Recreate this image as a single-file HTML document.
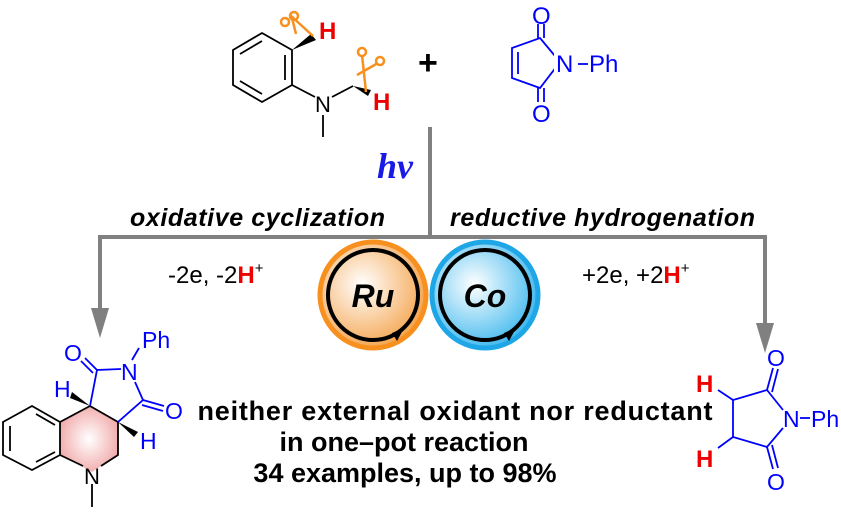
<!DOCTYPE html>
<html><head><meta charset="utf-8"><style>
html,body{margin:0;padding:0;background:#fff;}
svg{display:block;font-family:"Liberation Sans",sans-serif;}
</style></head><body>
<svg width="841" height="513" viewBox="0 0 841 513" xmlns="http://www.w3.org/2000/svg">
<defs>
<radialGradient id="ru" cx="0.4" cy="0.4" r="0.7"><stop offset="0" stop-color="#fff"/><stop offset="1" stop-color="#f39a3a"/></radialGradient>
<radialGradient id="co" cx="0.4" cy="0.4" r="0.7"><stop offset="0" stop-color="#fff"/><stop offset="1" stop-color="#29b0ec"/></radialGradient>
<radialGradient id="pk" cx="0.5" cy="0.5" r="0.6"><stop offset="0" stop-color="#fff"/><stop offset="1" stop-color="#f0a0a0"/></radialGradient>
</defs>
<!-- top-left molecule -->
<g stroke="#000" stroke-width="1.8" fill="none">
<polygon points="233,50 262,33 292,50 292,85 262,102 233,85"/>
<line x1="240" y1="54" x2="262" y2="41"/><line x1="285" y1="55" x2="285" y2="80"/><line x1="240" y1="81" x2="262" y2="94"/>
<line x1="292" y1="85" x2="315" y2="97"/>
<line x1="323" y1="115" x2="323" y2="137"/>
<line x1="332" y1="97" x2="353" y2="86"/>
</g>
<polygon points="292,50 311,34 316,40" fill="#000"/>
<polygon points="353,86 371,90 368,96" fill="#000"/>
<text x="315" y="112" font-size="22">N</text>
<text x="319" y="39" font-size="24" font-weight="bold" fill="#e00">H</text>
<text x="373" y="110" font-size="24" font-weight="bold" fill="#e00">H</text>
<g stroke="#f7901e" stroke-width="2.5" fill="none">
<line x1="290" y1="15" x2="313" y2="36"/><line x1="296" y1="34" x2="292" y2="18"/>
<circle cx="294" cy="16" r="4"/><circle cx="285" cy="22" r="4"/>
<line x1="362" y1="55" x2="366" y2="92"/><line x1="357" y1="75" x2="378" y2="63"/>
<circle cx="362" cy="52" r="4"/><circle cx="380" cy="61" r="4"/>
</g>
<text x="418" y="74" font-size="34" font-weight="bold">+</text>
<!-- maleimide -->
<g stroke="#00f" stroke-width="1.8" fill="none">
<polygon points="540,38 560,62 540,88 512,78 512,48"/>
<line x1="518" y1="52" x2="518" y2="74"/>
<line x1="538" y1="38" x2="538" y2="24"/><line x1="544" y1="38" x2="544" y2="24"/>
<line x1="538" y1="88" x2="538" y2="102"/><line x1="544" y1="88" x2="544" y2="102"/>
<line x1="578" y1="64" x2="588" y2="64"/>
</g>
<rect x="554" y="50" width="18" height="24" fill="#fff"/>
<text x="532" y="24" font-size="24" fill="#00f">O</text>
<text x="532" y="122" font-size="24" fill="#00f">O</text>
<text x="556" y="72" font-size="24" fill="#00f">N</text>
<text x="589" y="72" font-size="24" fill="#00f">Ph</text>
<!-- lines -->
<g stroke="#808080" stroke-width="4" fill="none">
<line x1="430" y1="127" x2="430" y2="237"/>
<line x1="98" y1="237" x2="767" y2="237"/>
<line x1="100" y1="235" x2="100" y2="315"/>
<line x1="765" y1="235" x2="765" y2="330"/>
</g>
<polygon points="91,308 109,308 100,338" fill="#808080"/>
<polygon points="756,323 774,323 765,353" fill="#808080"/>
<text x="377" y="178" font-size="36" font-weight="bold" font-style="italic" font-family="Liberation Serif,serif" fill="#1a1ae6">hv</text>
<text x="130" y="226" font-size="25" font-weight="bold" font-style="italic" textLength="255">oxidative cyclization</text>
<text x="450" y="226" font-size="25" font-weight="bold" font-style="italic" textLength="305">reductive hydrogenation</text>
<text x="168" y="283" font-size="24">-2e, -2<tspan fill="#e00" font-weight="bold">H</tspan><tspan font-size="15" dy="-10">+</tspan></text>
<text x="582" y="283" font-size="24">+2e, +2<tspan fill="#e00" font-weight="bold">H</tspan><tspan font-size="15" dy="-10">+</tspan></text>
<!-- circles -->
<circle cx="373" cy="295" r="53" fill="url(#ru)" stroke="#f7901e" stroke-width="5"/>
<circle cx="485" cy="295" r="53" fill="url(#co)" stroke="#1ea6e6" stroke-width="5"/>
<circle cx="373" cy="295" r="45" fill="none" stroke="#000" stroke-width="4"/>
<circle cx="485" cy="295" r="45" fill="none" stroke="#000" stroke-width="4"/>
<polygon points="392,333 404,328 397,341" fill="#000"/>
<polygon points="504,333 516,328 509,341" fill="#000"/>
<text x="373" y="307" font-size="32" font-weight="bold" font-style="italic" text-anchor="middle">Ru</text>
<text x="485" y="307" font-size="32" font-weight="bold" font-style="italic" text-anchor="middle">Co</text>
<!-- bottom-left molecule -->
<polygon points="60,422 90,406 118,422 118,455 92,472 60,455" fill="url(#pk)"/>
<g stroke="#000" stroke-width="1.8" fill="none">
<polygon points="3,422 32,406 60,422 60,455 32,470 3,455"/>
<line x1="10" y1="426" x2="10" y2="451"/><line x1="36" y1="414" x2="55" y2="425"/><line x1="36" y1="462" x2="55" y2="452"/>
<polyline points="60,422 90,406 118,422 118,455 101,466"/>
<line x1="60" y1="455" x2="83" y2="466"/>
<line x1="92" y1="484" x2="92" y2="507"/>
</g>
<text x="84" y="484" font-size="22">N</text>
<polygon points="90,406 72,392 70,398" fill="#000"/>
<polygon points="118,422 138,432 134,437" fill="#000"/>
<g stroke="#00f" stroke-width="1.8" fill="none">
<polyline points="90,406 97,370 121,369"/>
<polyline points="118,422 143,400 135,382"/>
<line x1="97" y1="370" x2="85" y2="358"/><line x1="93" y1="373" x2="81" y2="361"/>
<line x1="143" y1="400" x2="164" y2="406"/><line x1="142" y1="405" x2="163" y2="411"/>
<line x1="132" y1="360" x2="139" y2="348"/>
</g>
<text x="121" y="380" font-size="23" fill="#00f">N</text>
<text x="64" y="361" font-size="23" fill="#00f">O</text>
<text x="165" y="419" font-size="23" fill="#00f">O</text>
<text x="142" y="348" font-size="23" fill="#00f">Ph</text>
<text x="54" y="397" font-size="23" fill="#00f">H</text>
<text x="140" y="449" font-size="23" fill="#00f">H</text>
<!-- bottom text -->
<g font-size="27" font-weight="bold" text-anchor="middle">
<text x="455" y="420" textLength="515">neither external oxidant nor  reductant</text>
<text x="404" y="451">in one–pot reaction</text>
<text x="405" y="482">34 examples, up to 98%</text>
</g>
<!-- right product -->
<g stroke="#00f" stroke-width="1.8" fill="none">
<polyline points="783,410 767,390 733,400 733,437 767,447 783,428"/>
<line x1="767" y1="390" x2="773" y2="368"/><line x1="772" y1="392" x2="778" y2="369"/>
<line x1="767" y1="447" x2="773" y2="469"/><line x1="772" y1="445" x2="778" y2="468"/>
<line x1="733" y1="400" x2="718" y2="390"/><line x1="733" y1="437" x2="718" y2="448"/>
<line x1="800" y1="418" x2="810" y2="418"/>
</g>
<text x="767" y="366" font-size="23" fill="#00f">O</text>
<text x="767" y="490" font-size="23" fill="#00f">O</text>
<text x="783" y="427" font-size="23" fill="#00f">N</text>
<text x="811" y="427" font-size="23" fill="#00f">Ph</text>
<text x="696" y="392" font-size="24" font-weight="bold" fill="#e00">H</text>
<text x="696" y="467" font-size="24" font-weight="bold" fill="#e00">H</text>
</svg>
</body></html>
